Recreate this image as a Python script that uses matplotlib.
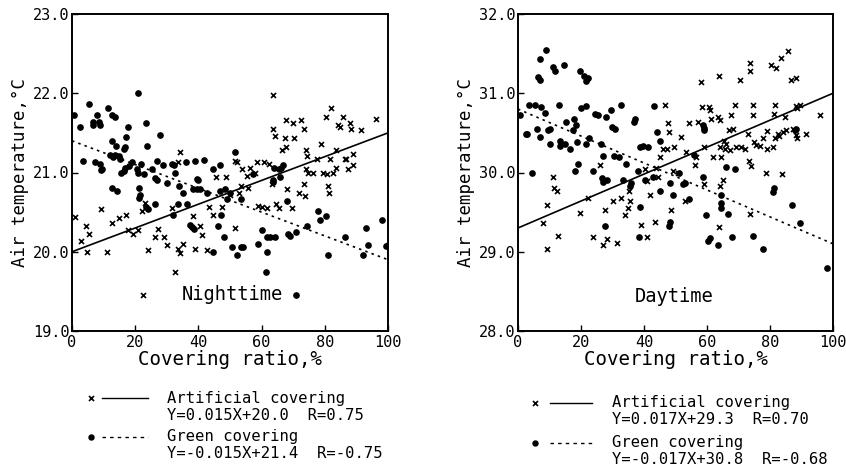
import matplotlib
matplotlib.use("Agg")
import matplotlib.pyplot as plt
from matplotlib.lines import Line2D
import numpy as np

W, H = 846, 468
FONT = "DejaVu Sans Mono"
plt.rcParams["font.family"] = FONT

# ---- Nighttime observations ----
night_art_x = [0.8, 3, 4.5, 4.9, 5.3, 9.3, 11, 12.6, 15, 17, 17.7, 19.3, 20.8, 22, 23, 24.2,
               26.3, 27.3, 29, 30, 31.6, 32.6, 33.4, 34.2, 35.2, 34.2, 33.7, 38.4, 38.9, 40.5,
               41, 42.8, 43.2, 44.7, 45.6, 47.4, 48.7, 50, 51.6, 51.6, 52.3, 53, 53.4, 53.7,
               55.3, 55.8, 56.3, 57.9, 58.4, 58.9, 60, 60.8, 61.6, 62.4, 63.5, 63.7, 64.2,
               63.2, 64.7, 65.6, 66.3, 67.4, 67.7, 67.7, 68.1, 69.5, 70, 70.2, 71.9, 72.6,
               73.4, 73.7, 74, 74.5, 73.5, 74, 74.7, 76.3, 77.6, 78.9, 79.3, 80.8, 81, 81.4,
               81.8, 82.1, 80.5, 82.6, 83.7, 84.2, 84.7, 85.8, 86.3, 86.8, 87.4, 88, 88.2,
               88.8, 89, 91.6, 96.1, 83.5, 22.6]
night_art_y = [20.44, 20.13, 20.33, 20.0, 20.23, 20.54, 20.0, 20.36, 20.43, 20.47, 20.28, 20.23,
               20.28, 20.51, 20.61, 20.02, 20.19, 20.29, 20.18, 20.09, 20.55, 19.74, 20.04,
               19.98, 20.1, 21.26, 21.13, 20.45, 20.04, 20.32, 20.21, 20.02, 20.57, 20.47,
               20.94, 20.57, 20.94, 20.72, 20.3, 21.15, 21.13, 20.74, 20.83, 21.04, 20.96,
               20.81, 21.06, 21.0, 21.13, 20.58, 20.57, 21.13, 20.55, 21.11, 21.98, 21.55,
               21.46, 20.85, 20.6, 20.55, 21.28, 21.43, 21.66, 21.32, 20.79, 20.55, 21.62,
               21.43, 20.74, 21.66, 21.55, 20.7, 21.28, 21.21, 20.85, 21.04, 21.0, 21.0,
               21.17, 21.36, 21.0, 20.98, 20.83, 20.74, 21.17, 21.81, 21.7, 21.0, 21.06,
               21.6, 21.57, 21.7, 21.17, 21.17, 21.04, 21.62, 21.55, 21.23, 21.1, 21.53,
               21.68, 21.28, 19.46]

night_green_x = [0.7, 2.4, 3.5, 5.3, 6.6, 6.8, 7.4, 7.9, 8.4, 8.9, 8.9, 9.5, 9.1, 11.3, 12.6,
                 13.7, 12, 13.1, 13.7, 12.6, 14, 15, 15.2, 16.5, 16.9, 17.2, 17.7, 12.6, 14.2,
                 15.5, 16.5, 16.8, 18, 19, 20.5, 20.8, 20.8, 21.3, 21.5, 21.1, 21.8, 22.8,
                 23.4, 23.7, 23.5, 24, 25.3, 26.2, 27, 26.3, 26.8, 27.9, 28.9, 30, 31.8,
                 32.3, 32.6, 32, 33.7, 34, 35, 36, 36.3, 37.4, 38.1, 38.6, 38.9, 39.5, 40,
                 38.4, 39.5, 40.5, 41.8, 42.6, 44.5, 44.7, 46.8, 47, 46.3, 46.8, 48, 48.3, 49,
                 50, 50.5, 51.6, 52.3, 53.4, 53.4, 54, 57.4, 58.9, 60, 61.6, 61.3, 61.6, 62.6,
                 63.7, 63.7, 64.2, 64, 65.6, 66.1, 65.8, 66.8, 67.9, 68.4, 68.9, 71, 74.5,
                 78, 78.6, 80.5, 81, 86.3, 92, 93, 93.7, 98.2, 99.5, 100, 71]
night_green_y = [21.72, 21.57, 21.14, 21.86, 21.64, 21.6, 21.13, 21.72, 21.64, 21.6, 21.11,
                 21.05, 21.03, 21.82, 21.73, 21.7, 21.22, 21.2, 21.22, 21.4, 21.34, 21.21,
                 21.17, 21.3, 21.32, 21.45, 21.57, 20.81, 20.77, 21.0, 21.02, 21.06, 21.08,
                 21.13, 21.04, 21.0, 22.0, 20.8, 20.72, 20.68, 21.11, 20.98, 21.63, 21.34,
                 20.56, 20.54, 21.04, 20.93, 20.91, 20.6, 21.15, 21.47, 21.09, 20.87, 21.11,
                 21.09, 21.0, 20.47, 20.6, 20.83, 20.74, 21.13, 20.6, 20.34, 20.31, 20.29,
                 21.14, 20.92, 20.9, 20.79, 20.79, 20.79, 21.16, 20.74, 20.0, 21.04, 21.09,
                 20.46, 20.32, 20.77, 20.19, 20.79, 20.66, 20.74, 20.06, 21.26, 19.96, 20.66,
                 20.06, 20.06, 20.98, 20.1, 20.28, 20.0, 19.74, 20.18, 20.18, 20.9, 20.88,
                 20.18, 21.06, 21.05, 21.06, 20.94, 21.09, 20.64, 20.22, 20.2, 20.25, 20.33,
                 20.51, 20.4, 20.45, 19.96, 20.19, 19.96, 20.3, 20.09, 20.4, 20.07, 20.08,
                 19.45]

# ---- Daytime observations ----
day_art_x = [7.9, 9.3, 9.3, 11.1, 11.4, 12.4, 12.7, 19.6, 22.2, 23.8, 25.9, 27, 28.1, 27.5,
             30.2, 31.5, 32.8, 33.9, 34.9, 35.2, 35.7, 39.2, 40.2, 41.1, 41.1, 41.8, 43.5,
             43.9, 44.4, 45.2, 46, 46.8, 47.3, 47.6, 47.9, 48.7, 49.2, 49.5, 50.8, 51.6,
             53.1, 53.4, 54.3, 56.1, 56.4, 57.1, 58.2, 58.5, 59, 58.9, 60.6, 61, 61.4, 61.9,
             63.6, 64, 63.7, 63.8, 64, 64, 64.6, 65.1, 65.3, 65.6, 66.1, 67, 67.2, 67.7,
             68.3, 68.8, 69.3, 70.9, 70.6, 72, 73, 73.4, 73.9, 73.5, 73.7, 73.7, 74.6, 74.6,
             74.9, 75.4, 76.7, 77.8, 78.8, 79, 79.2, 80.4, 80.9, 81.3, 81.5, 81.5, 82, 82.5,
             83, 83.4, 83.9, 84.1, 84.7, 85, 85.8, 86.6, 88.4, 87.3, 88.4, 88.7, 88.1, 88.6,
             89.6, 91.5, 95.8]
day_art_y = [29.36, 29.04, 29.59, 29.94, 29.81, 29.77, 29.2, 29.49, 29.68, 29.18, 30.09,
             29.09, 29.16, 29.53, 29.64, 29.11, 29.68, 29.47, 29.55, 29.77, 29.64, 29.34,
             30.04, 29.18, 29.89, 29.72, 29.37, 30.06, 29.94, 30.19, 30.3, 30.85, 30.3,
             30.62, 30.51, 29.53, 30.02, 30.32, 30.0, 30.45, 29.64, 30.26, 30.63, 30.09,
             30.19, 30.64, 31.14, 30.83, 30.32, 29.85, 30.83, 30.79, 30.67, 30.19, 30.7,
             30.66, 29.31, 31.22, 30.32, 29.83, 30.19, 29.91, 30.4, 30.3, 30.36, 30.53,
             30.28, 30.72, 30.55, 30.85, 30.32, 30.32, 31.17, 30.3, 30.49, 30.14, 30.08,
             29.48, 31.38, 31.28, 30.85, 30.72, 30.38, 30.35, 30.34, 30.43, 30.0, 30.52,
             30.3, 31.36, 30.32, 30.74, 30.85, 30.43, 31.32, 30.48, 30.46, 31.45, 29.98,
             30.51, 30.7, 30.53, 31.53, 31.17, 31.19, 30.55, 30.47, 30.43, 30.84, 30.81,
             30.85, 30.49, 30.72]

day_green_x = [0.5, 2.4, 2.8, 3.5, 4.5, 5.3, 6, 6.5, 6.9, 7, 7.4, 7.1, 8.8, 8.5, 9.6, 10.1,
               10.1, 11, 11.7, 13, 13.2, 13.2, 14.5, 14.8, 15.3, 16.4, 17.5, 17.7, 18, 18.5,
               18.8, 19, 19.8, 20.1, 21, 21.6, 22.1, 21.7, 21.5, 22.5, 23.8, 24.3, 25.4,
               26.5, 26.7, 27, 27, 27.5, 28, 28.4, 29.6, 29.7, 30.8, 30.4, 32.1, 32.8, 33.3,
               34.4, 35.7, 36, 36.8, 37.1, 38.1, 38.4, 38.6, 38.8, 39.7, 40.2, 41.3, 43.1,
               42.9, 44.1, 45, 45.2, 48.1, 47.9, 48.4, 49.2, 51.1, 52.4, 52.9, 54.3, 55.9,
               58.8, 58.7, 59.2, 59, 59.8, 60.4, 60.9, 63.5, 64.6, 64.6, 64.6, 66.1, 66.7,
               68, 68.8, 74.6, 77.8, 81.1, 81.4, 87.1, 87.8, 88.2, 89.4, 98.1]
day_green_y = [30.72, 30.49, 30.49, 30.85, 29.99, 30.85, 30.55, 31.2, 31.17, 31.43, 30.83,
               30.45, 31.54, 30.75, 30.54, 30.55, 30.36, 31.33, 31.28, 30.85, 30.4, 30.34,
               31.36, 30.36, 30.64, 30.3, 30.53, 30.68, 30.02, 30.6, 30.38, 30.11, 31.28,
               30.81, 31.22, 31.16, 31.19, 30.84, 30.36, 30.43, 30.02, 30.74, 30.72, 30.36,
               29.93, 29.88, 30.21, 29.32, 30.7, 29.91, 30.79, 30.57, 30.55, 30.21, 30.19,
               30.85, 29.91, 30.11, 29.83, 29.87, 30.64, 30.67, 30.02, 29.19, 29.56, 30.32,
               30.33, 29.91, 30.32, 30.84, 29.94, 30.51, 30.4, 29.77, 29.87, 29.33, 29.37,
               29.72, 30.0, 29.85, 29.87, 29.66, 30.22, 29.94, 30.6, 30.56, 30.53, 29.47,
               29.13, 29.17, 29.09, 29.72, 29.62, 29.55, 30.07, 29.48, 29.18, 30.05, 29.2,
               29.04, 29.76, 29.8, 29.59, 30.53, 30.55, 29.36, 28.79]

# Regression lines: slope, intercept
night_art_fit = [0.015, 20.0]
night_green_fit = [-0.015, 21.4]
day_art_fit = [0.017, 29.3]
day_green_fit = [-0.017, 30.8]

x_ticks = [0, 20, 40, 60, 80, 100]
night_y_ticks = [19.0, 20.0, 21.0, 22.0, 23.0]
day_y_ticks = [28.0, 29.0, 30.0, 31.0, 32.0]

night_legend = ["Artificial covering", "Y=0.015X+20.0  R=0.75",
                "Green covering", "Y=-0.015X+21.4  R=-0.75"]
day_legend = ["Artificial covering", "Y=0.017X+29.3  R=0.70",
              "Green covering", "Y=-0.017X+30.8  R=-0.68"]


def fx(px):
    return px / W


def fy(py):
    return 1 - py / H


fig = plt.figure(figsize=(W / 100, H / 100), dpi=100)
fig.patch.set_facecolor("white")

DOTTED = (0, (1.5, 2.5))


def panel(rect, ax_x, ax_y, gx, gy, afit, gfit, yticks, title, title_xy):
    ax = fig.add_axes(rect)
    ax.plot(ax_x, ax_y, linestyle="none", marker="x", ms=3.6, mew=1.2, color="black")
    ax.plot(gx, gy, linestyle="none", marker="o", ms=3.8, color="black", mec="black")
    xs = np.array([0, 100])
    ax.plot(xs, afit[0] * xs + afit[1], color="black", lw=1.2, solid_capstyle="butt")
    ax.plot(xs, gfit[0] * xs + gfit[1], color="black", lw=1.2, linestyle=DOTTED)
    ax.set_xlim(0, 100)
    ax.set_ylim(yticks[0], yticks[-1])
    ax.set_xticks(x_ticks)
    ax.set_yticks(yticks)
    ax.set_yticklabels([f"{v:.1f}" for v in yticks])
    ax.tick_params(direction="in", length=4, width=1.0, labelsize=11, pad=2,
                   top=False, right=False)
    ax.tick_params(axis="x", pad=3)
    for s in ax.spines.values():
        s.set_linewidth(1.4)
    ax.set_xlabel("Covering ratio,%", fontsize=13.8, labelpad=0)
    ax.set_ylabel("Air temperature,\u00b0C", fontsize=12.5, labelpad=3)
    ax.text(title_xy[0], title_xy[1], title, fontsize=13.5, ha="center", va="center")
    return ax


axL = panel([fx(72), fy(331), fx(388) - fx(72), fy(14) - fy(331)],
            night_art_x, night_art_y, night_green_x, night_green_y,
            night_art_fit, night_green_fit, night_y_ticks, "Nighttime", (50.6, 19.46))
axR = panel([fx(518), fy(331), fx(833) - fx(518), fy(14) - fy(331)],
            day_art_x, day_art_y, day_green_x, day_green_y,
            day_art_fit, day_green_fit, day_y_ticks, "Daytime", (49.5, 28.44))


def legend_block(mx, lx0, lx1, tx, ys, texts):
    tf = fig.transFigure
    # artificial covering: cross + solid line
    fig.add_artist(Line2D([fx(mx)], [fy(ys[0])], marker="x", ms=3.6, mew=1.2,
                          color="black", linestyle="none", transform=tf))
    fig.add_artist(Line2D([fx(lx0), fx(lx1)], [fy(ys[0]), fy(ys[0])], color="black",
                          lw=1.0, transform=tf))
    # green covering: dot + dashed line
    fig.add_artist(Line2D([fx(mx)], [fy(ys[2])], marker="o", ms=3.6, color="black",
                          linestyle="none", transform=tf))
    fig.add_artist(Line2D([fx(lx0), fx(lx1)], [fy(ys[2]), fy(ys[2])], color="black",
                          lw=1.0, linestyle=(0, (2.5, 3)), transform=tf))
    for t, y in zip(texts, ys):
        fig.text(fx(tx), fy(y), t, fontsize=11.2, ha="left", va="center")


legend_block(91, 102, 148, 167, [398, 415, 437, 453], night_legend)
legend_block(535, 550, 592, 612, [403, 420, 443, 460], day_legend)

fig.savefig("out.png", dpi=100, facecolor="white")
